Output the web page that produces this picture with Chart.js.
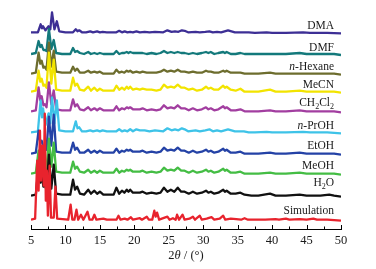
<!DOCTYPE html>
<html>
<head>
<meta charset="utf-8">
<script src="https://cdn.jsdelivr.net/npm/chart.js@4.4.1/dist/chart.umd.min.js"></script>
<style>
  html, body { margin: 0; padding: 0; background: #fff; }
  #wrap { width: 376px; height: 269px; }
</style>
</head>
<body>
<div id="wrap"><canvas id="xrd" width="376" height="269"></canvas></div>
<script>
const anglesA = [5.0, 5.7, 6.1, 6.35, 6.55, 6.8, 7.0, 7.25, 7.6, 7.95,
  8.3, 8.65, 9.5, 10.7, 11.1, 11.4, 11.7, 12.1, 12.7, 13.3,
  13.7, 14.2, 14.6, 15.0, 15.5, 16.5, 17.0, 17.4, 17.8, 18.2,
  18.55, 18.9, 19.15, 19.4, 19.8, 20.3, 20.8, 21.2, 21.8, 22.5,
  23.2, 23.8, 24.3, 24.8, 25.3, 25.8, 26.3, 26.8, 27.3, 27.9,
  28.5, 29.1, 29.8, 30.4, 30.75, 31.1, 31.6, 32.2, 32.9, 33.15,
  33.4, 34.0, 34.7, 35.4, 36.0, 37.0, 38.0, 39.7, 40.5, 42.0,
  44.0, 45.0, 47.0, 48.3, 49.0, 50.0];

// DMA and n-PrOH patterns sit slightly to the right
const anglesB = [5.0, 6.0, 6.4, 6.6, 6.75, 7.1, 7.55, 7.8, 8.05, 8.4,
  8.75, 9.1, 10.0, 11.1, 11.5, 11.75, 12.0, 12.4, 13.0, 13.6,
  14.0, 14.6, 15.0, 15.4, 16.0, 17.4, 17.8, 18.2, 18.6, 19.0,
  19.4, 19.8, 20.3, 20.8, 21.5, 22.2, 23.0, 24.2, 24.8, 25.4,
  25.9, 26.4, 26.9, 27.3, 27.8, 28.9, 29.5, 30.3, 30.9, 31.4,
  32.0, 32.6, 33.6, 34.1, 34.6, 35.9, 36.6, 37.5, 39.2, 40.0,
  42.0, 44.5, 45.5, 48.0, 50.0];

const simAngles = [5.0, 5.6, 5.9, 6.1, 6.3, 6.45, 6.65, 6.85, 7.0, 7.15,
  7.3, 7.45, 7.7, 7.9, 8.3, 8.55, 8.8, 10.4, 10.75, 11.0,
  11.3, 11.6, 11.85, 12.25, 12.6, 13.2, 13.5, 13.9, 14.2, 14.5,
  15.5, 16.0, 17.4, 17.7, 18.0, 18.6, 19.0, 19.5, 19.8, 20.8,
  21.1, 21.8, 22.1, 22.6, 22.9, 23.1, 23.3, 23.6, 24.4, 24.8,
  25.1, 25.6, 26.0, 26.2, 26.5, 27.0, 27.3, 28.0, 28.5, 28.8,
  29.5, 29.8, 30.5, 31.2, 31.6, 32.4, 32.9, 33.2, 34.0, 34.8,
  35.5, 36.0, 36.5, 38.0, 39.0, 40.5, 41.0, 42.0, 42.5, 44.0,
  45.0, 46.0, 46.5, 48.0, 50.0];

// 强度 (a.u.)
const simulation = [1, 2, 60, 30, 90, 40, 75, 35, 107, 20,
  50, 5, 55, 3, 3, 34, 2, 1, 16, 1,
  1, 11, 1, 6, 1, 9, 1, 1, 6, 1,
  2, 1, 1, 5, 1, 2, 1, 3.5, 1, 2.5,
  1, 4, 1, 1, 10, 4, 8, 1, 3, 4,
  1, 2.5, 1, 6, 1, 6, 1, 2, 4, 1,
  5, 1, 2, 3.5, 1, 2, 5, 1, 2, 1.5,
  1, 2.5, 1, 1, 1, 1.5, 1, 2, 1, 1.5,
  1, 2, 1, 1, 0];

const h2o = [1, 2, 30, 14, 22, 10, 13, 6, 42, 8,
  32, 3, 2, 2, 17, 7, 10, 3, 2, 7,
  3, 6, 3, 5, 2, 2, 2, 9, 3, 6,
  4, 7, 5, 7, 4, 4, 4, 5, 3, 4,
  3, 4, 9, 5, 7, 5, 9, 5, 5, 3,
  5, 3, 4, 6, 4, 5, 3, 4, 7, 5,
  6, 3, 3, 4, 2, 1, 1, 3, 1, 1,
  2, 1, 1, 2, 1, 0];

const meoh = [1, 2, 24, 12, 15, 8, 9, 5, 36, 8,
  32, 3, 2, 2, 13, 6, 8, 3, 2, 5,
  2, 4, 2, 4, 2, 2, 2, 6, 2, 4,
  3, 5, 4, 5, 3, 3, 3, 4, 2, 3,
  2, 3, 7, 4, 5, 4, 7, 4, 4, 2,
  4, 2, 3, 5, 3, 4, 2, 3, 6, 4,
  5, 2, 2, 3, 1, 1, 1, 2, 1, 1,
  2, 1, 1, 1, 1, 0];

const etoh = [1, 2, 24, 12, 14, 7, 8, 5, 38, 9,
  40, 3, 2, 2, 12, 5, 7, 2, 2, 5,
  2, 4, 2, 4, 2, 2, 2, 6, 2, 4,
  3, 5, 4, 5, 3, 3, 3, 4, 2, 3,
  2, 3, 7, 4, 5, 4, 7, 4, 4, 2,
  4, 2, 3, 5, 3, 4, 2, 3, 6, 4,
  5, 2, 2, 3, 1, 1, 1, 2, 1, 1,
  2, 1, 1, 1, 1, 0];

const nProh = [1, 2, 33, 16, 25, 8, 20, 10, 36, 10,
  33, 3, 2, 2, 12, 5, 6, 2, 2, 3,
  2, 3, 2, 3, 2, 2, 4, 2, 3, 2,
  4, 2, 4, 3, 3, 2, 3, 2, 5, 3,
  4, 3, 5, 4, 2, 3, 2, 3, 4, 2,
  3, 2, 4, 3, 2, 2, 1, 1, 1.5, 1,
  1, 1.5, 1, 1, 0];

const ch2cl2 = [1, 2, 25, 12, 16, 7, 8, 5, 30, 8,
  22, 3, 2, 2, 13, 6, 8, 3, 2, 5,
  2, 4, 2, 4, 2, 2, 2, 6, 2, 4,
  3, 5, 4, 5, 3, 3, 3, 4, 2, 3,
  2, 3, 7, 4, 5, 4, 7, 4, 4, 2,
  4, 2, 3, 5, 3, 4, 2, 3, 6, 4,
  5, 2, 2, 3, 1, 1, 1, 2, 1, 1,
  2, 1, 1, 1, 1, 0];

const mecn = [1, 2, 22, 11, 14, 7, 8, 5, 40, 9,
  33, 3, 2, 2, 15, 7, 9, 3, 2, 6,
  2, 5, 2, 4, 2, 2, 2, 7, 3, 5,
  3, 6, 4, 6, 3, 4, 3, 4, 3, 3,
  2, 3, 8, 5, 6, 5, 8, 5, 5, 3,
  4, 2, 3, 6, 4, 5, 3, 3, 7, 5,
  6, 3, 2, 4, 1, 1, 1, 3, 1, 1,
  2, 1, 1, 1, 1, 0];

const nHexane = [1, 2, 22, 11, 14, 7, 8, 5, 32, 8,
  24, 3, 2, 2, 8, 4, 6, 2, 2, 4,
  2, 3, 2, 3, 1, 1, 1, 5, 2, 3,
  2, 4, 3, 4, 2, 3, 2, 3, 2, 2,
  2, 3, 5, 3, 4, 3, 5, 3, 3, 2,
  3, 2, 2, 4, 3, 3, 2, 2, 4, 3,
  4, 2, 2, 2, 1, 1, 1, 2, 1, 1,
  1, 1, 1, 1, 1, 0];

const dmf = [1, 2, 14, 8, 10, 5, 5, 4, 26, 6,
  15, 2, 1, 1, 7, 3, 4, 2, 1, 3,
  1, 2, 1, 2, 1, 1, 1, 4, 1, 2,
  2, 3, 2, 3, 2, 2, 2, 2, 1, 2,
  1, 2, 4, 2, 3, 2, 3, 2, 2, 1,
  2, 1, 2, 3, 2, 3, 1, 2, 3, 2,
  3, 1, 1, 2, 1, 1, 1, 1, 1, 1,
  2, 1, 1, 1, 1, 0];

const dma = [1, 1, 9, 5, 7, 3, 7, 4, 21, 4,
  12, 2, 1, 1, 4, 2, 3, 1, 1, 2,
  1, 2, 1, 1.5, 1, 1, 2.5, 1, 2, 1,
  1.5, 1, 2, 1, 1.5, 1, 1.5, 1, 3, 1.5,
  2, 1.5, 3, 2.5, 1, 1.5, 1, 1.5, 2, 1,
  1.5, 1, 3, 2, 1, 1, 1, 0.5, 1, 0.5,
  0.5, 1, 0.5, 0.5, 0];

const xTicks = { min: 5, max: 50, step: 2.5, major: 5 };

// 曲线样式，第一个画在最上面
const FONT = "'Liberation Serif', 'DejaVu Serif', serif";
const series = [
  { label: [["Simulation", ""]], x: simAngles, y: simulation, color: "#e8232d", shift: 8.3, lift: 10 },
  { label: [["H", ""], ["2", "sub"], ["O", ""]], x: anglesA, y: h2o, color: "#111111", shift: 32.3, lift: 13.5 },
  { label: [["MeOH", ""]], x: anglesA, y: meoh, color: "#44bd44", shift: 54.3, lift: 8.7 },
  { label: [["EtOH", ""]], x: anglesA, y: etoh, color: "#2442a6", shift: 74.3, lift: 8.7 },
  { label: [["n", "i"], ["-PrOH", ""]], x: anglesB, y: nProh, color: "#3ec3e8", shift: 95.7, lift: 7.6 },
  { label: [["CH", ""], ["2", "sub"], ["Cl", ""], ["2", "sub"]], x: anglesA, y: ch2cl2, color: "#a23ea0", shift: 116.7, lift: 9 },
  { label: [["MeCN", ""]], x: anglesA, y: mecn, color: "#f2e400", shift: 136.3, lift: 7.7 },
  { label: [["n", "i"], ["-Hexane", ""]], x: anglesA, y: nHexane, color: "#6d6d2e", shift: 154.3, lift: 7.7 },
  { label: [["DMF", ""]], x: anglesA, y: dmf, color: "#13797b", shift: 174, lift: 7.3 },
  { label: [["DMA", ""]], x: anglesB, y: dma, color: "#3d2f95", shift: 195.7, lift: 7.3 },
];

series.forEach((s) => {
  if (s.x.length !== s.y.length) console.error("length mismatch", s.label, s.x.length, s.y.length);
});

function partFont(style, size) {
  if (style === "i") return `italic ${size}px ${FONT}`;
  if (style === "sub") return `${Math.round(size * 0.7)}px ${FONT}`;
  return `${size}px ${FONT}`;
}

// 混合样式文字（斜体、下标）
function drawRich(ctx, parts, x, y, size, align) {
  let total = 0;
  const widths = parts.map(([t, st]) => {
    ctx.font = partFont(st, size);
    const w = ctx.measureText(t).width;
    total += w;
    return w;
  });
  let cx = align === "right" ? x - total : align === "center" ? x - total / 2 : x;
  ctx.textBaseline = "middle";
  ctx.textAlign = "left";
  parts.forEach(([t, st], i) => {
    ctx.font = partFont(st, size);
    ctx.fillText(t, cx, y + (st === "sub" ? size * 0.32 : 0));
    cx += widths[i];
  });
}

const decorations = {
  id: "decorations",
  afterDatasetsDraw(chart) {
    const { ctx, chartArea, scales } = chart;
    ctx.save();
    ctx.fillStyle = "#1a1a1a";
    series.forEach((s) => {
      const y = scales.y.getPixelForValue(s.shift) - s.lift;
      drawRich(ctx, s.label, chartArea.right - 7, y, 11.5, "right");
    });
    ctx.restore();
  },
  afterDraw(chart) {
    const { ctx, chartArea, scales } = chart;
    const xs = scales.x;
    ctx.save();
    ctx.strokeStyle = "#000";
    ctx.lineWidth = 1;
    ctx.beginPath();
    xs.ticks.forEach((t) => {
      const px = Math.round(xs.getPixelForValue(t.value)) + 0.5;
      const len = t.value % xTicks.major === 0 ? 4 : 2.5;
      ctx.moveTo(px, chartArea.bottom);
      ctx.lineTo(px, chartArea.bottom - len);
    });
    ctx.stroke();
    ctx.fillStyle = "#1a1a1a";
    drawRich(ctx, [["2", ""], ["θ", "i"], [" / (°)", ""]],
      (chartArea.left + chartArea.right) / 2, 256, 12.5, "center");
    ctx.restore();
  },
};

Chart.defaults.font.family = FONT;

new Chart(document.getElementById("xrd"), {
  type: "line",
  data: {
    datasets: series.map((s) => ({
      data: s.x.map((a, i) => ({ x: a, y: s.shift + s.y[i] })),
      borderColor: s.color,
      borderWidth: 2.3,
      pointRadius: 0,
      tension: 0,
      fill: false,
      borderJoinStyle: "round",
    })),
  },
  options: {
    responsive: false,
    animation: false,
    events: [],
    layout: { padding: { left: 31, right: 35, top: 5, bottom: 0 } },
    plugins: { legend: { display: false }, tooltip: { enabled: false } },
    scales: {
      x: {
        type: "linear",
        min: xTicks.min,
        max: xTicks.max,
        afterFit: (scale) => { scale.height = 40; },
        grid: { display: false, drawTicks: false },
        border: { display: true, color: "#000", width: 1 },
        ticks: {
          stepSize: xTicks.step,
          autoSkip: false,
          maxRotation: 0,
          padding: 4,
          color: "#1a1a1a",
          font: { size: 12.5 },
          callback: (v) => (v % xTicks.major === 0 ? v : ""),
        },
      },
      y: { display: false, min: 0, max: 224 },
    },
  },
  plugins: [decorations],
});
</script>
</body>
</html>
